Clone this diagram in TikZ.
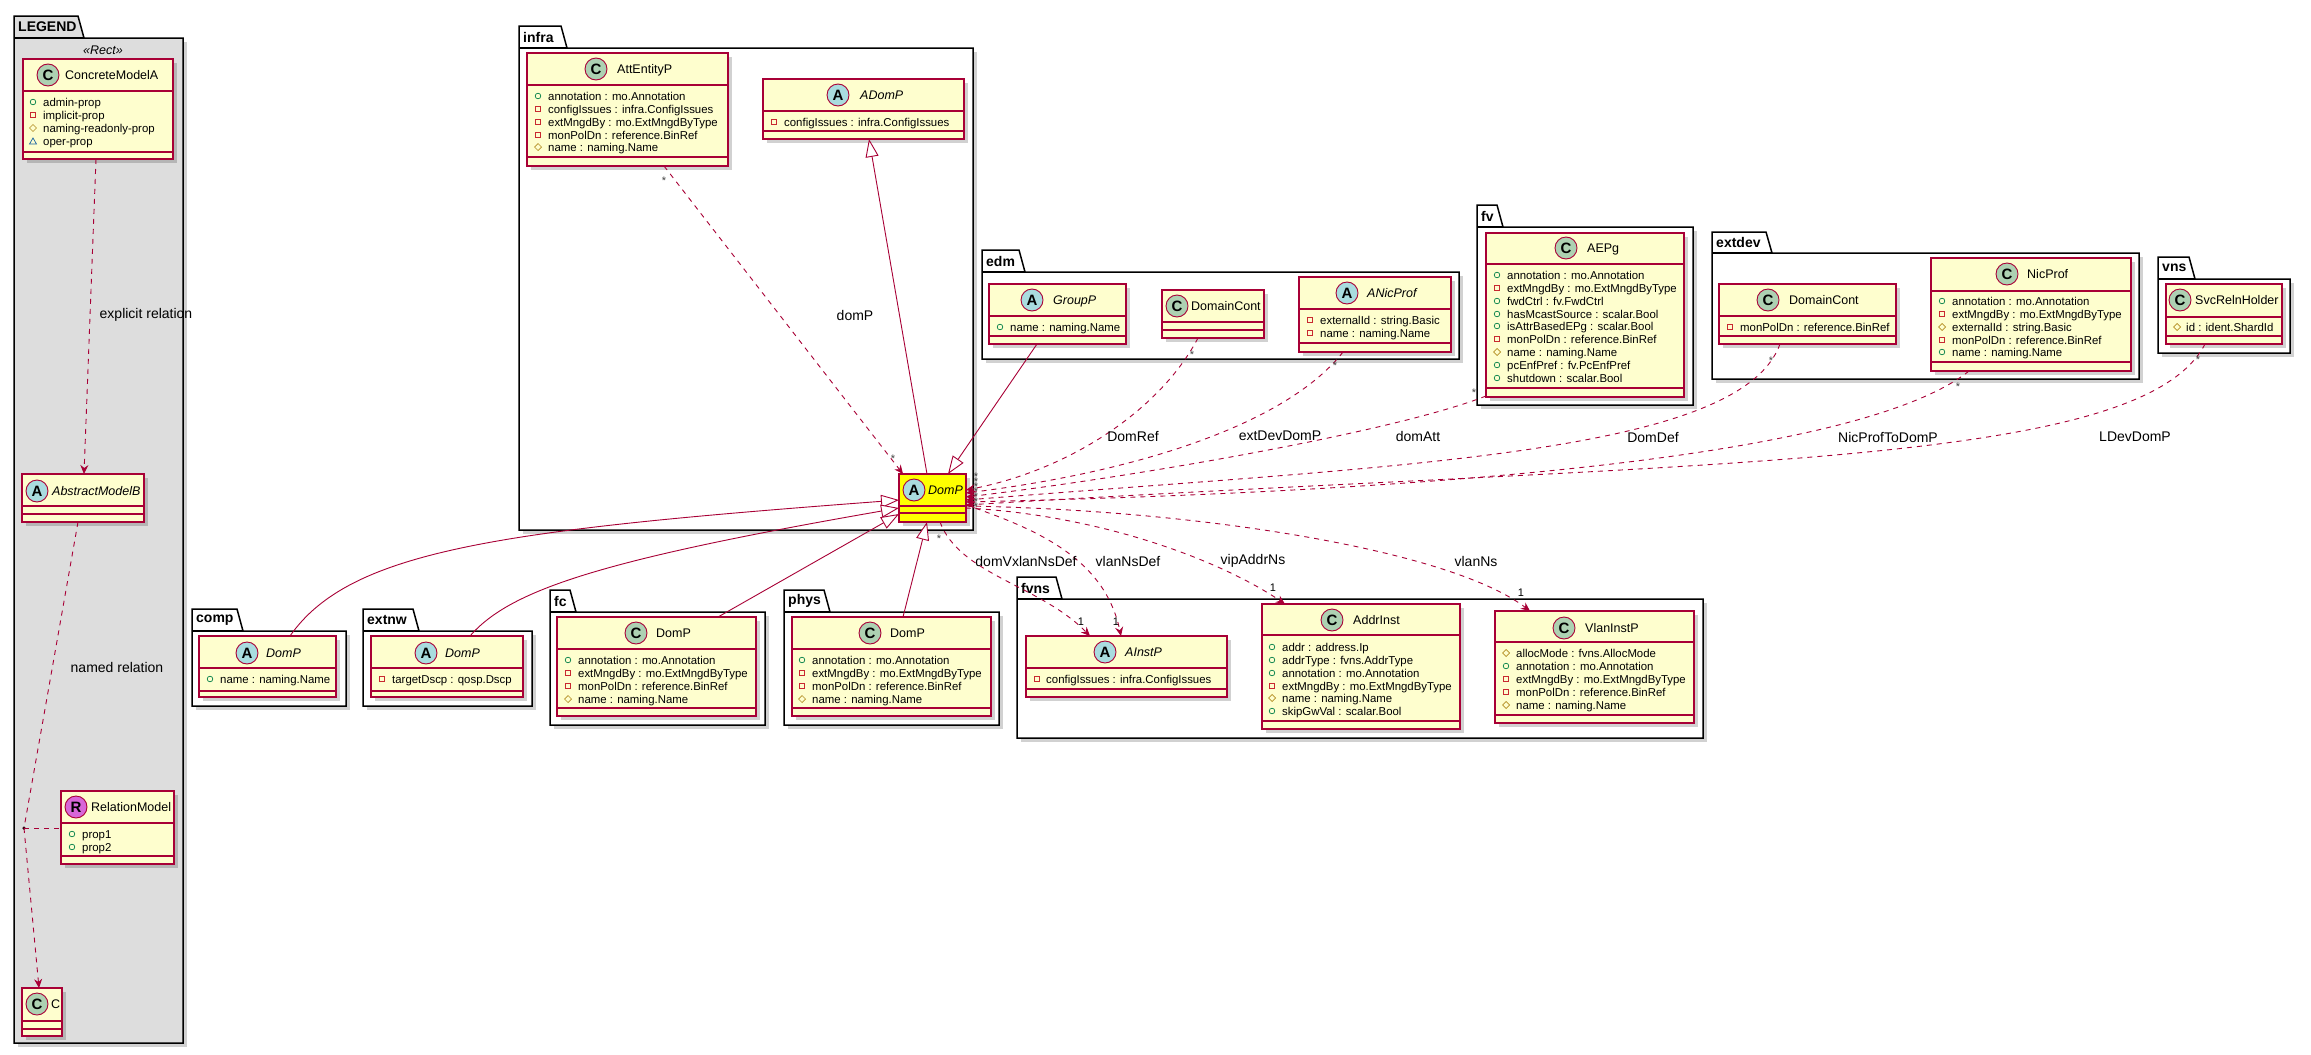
\documentclass[tikz,border=0pt]{standalone}
\usepackage{fontspec}
\setmainfont{Liberation Sans}
\usetikzlibrary{arrows.meta}
\definecolor{bord}{HTML}{A80036}
\definecolor{cfill}{HTML}{FEFECE}
\definecolor{cC}{HTML}{ADD1B2}
\definecolor{cA}{HTML}{A9DCDF}
\definecolor{cR}{HTML}{D866D8}
\definecolor{pubc}{HTML}{038048}
\definecolor{privc}{HTML}{C82930}
\definecolor{protc}{HTML}{B38D22}
\definecolor{pkgc}{HTML}{1963A0}
\definecolor{legbg}{HTML}{DDDDDD}
\definecolor{domy}{HTML}{FFFF00}
\newcounter{attrc}
\tikzset{
 cbox/.style={rectangle, draw=bord, line width=1.2pt, inner sep=0pt, outer sep=0pt},
 cline/.style={draw=bord, line width=1.2pt},
 cshadow/.style={fill=black, opacity=0.18},
 pkgline/.style={draw=black, line width=1.5pt},
 pshadow/.style={fill=black, opacity=0.18},
 circ/.style={circle, draw=bord, line width=0.9pt, minimum size=22pt, inner sep=0pt, font=\bfseries\fontsize{15}{15}\selectfont},
 cname/.style={anchor=west, inner sep=0pt, text height=9pt, text depth=0pt, font=\fontsize{12.5}{14}\selectfont},
 aname/.style={cname, font=\itshape\fontsize{12.5}{14}\selectfont},
 attrtext/.style={anchor=west, inner sep=0pt, text height=8pt, text depth=0pt, font=\fontsize{11.4}{13}\selectfont},
 pkgname/.style={anchor=west, inner sep=0pt, font=\bfseries\fontsize{14}{16}\selectfont},
 elabel/.style={inner sep=0pt, font=\fontsize{14}{16}\selectfont},
 mult/.style={inner sep=0pt, text=black!75, font=\fontsize{11}{12}\selectfont},
 dep/.style={draw=bord, line width=0.9pt, dash pattern=on 5pt off 5pt},
 deparrow/.style={dep, -{Stealth[length=9pt,width=8pt,inset=3pt]}},
 gen/.style={draw=bord, line width=0.9pt, -{Triangle[open, length=18pt, width=13pt, fill=white]}},
}
\newcommand\icpub[2]{\draw[pubc, line width=0.7pt] (#1,#2) circle (2.8pt);}
\newcommand\icpriv[2]{\draw[privc, line width=0.7pt] (#1-2.8,#2-2.8) rectangle (#1+2.8,#2+2.8);}
\newcommand\icprot[2]{\draw[protc, line width=0.7pt] (#1-3.5,#2) -- (#1,#2-3.5) -- (#1+3.5,#2) -- (#1,#2+3.5) -- cycle;}
\newcommand\icpkg[2]{\draw[pkgc, line width=0.7pt] (#1-3.5,#2+3) -- (#1,#2-3) -- (#1+3.5,#2+3) -- cycle;}
\newcommand\uattr[5]{\csname ic#1\endcsname{#2}{#4}\stepcounter{attrc}\node[attrtext] (attr\arabic{attrc}) at (#3,#4) {#5};}
\newcommand\uclass[8]{%
 \fill[cshadow] (#2+4,#3+4) rectangle (#4+4,#5+4);
 \node[cbox, fill=#8, anchor=north west, minimum width={(#4-#2)*1pt}, minimum height={(#5-#3)*1pt}] (#1) at (#2,#3) {};
 \draw[cline] (#2,#6) -- (#4,#6);
 \draw[cline] (#2,#7) -- (#4,#7);}
\newcommand\upkg[9]{%
 \fill[pshadow] (#3+4,#6+4) rectangle (#7+4,#8+4);
 \draw[pkgline, fill=#9] (#3,#4) -- (#5-6,#4) -- (#5,#6) -- (#7,#6) -- (#7,#8) -- (#3,#8) -- cycle;
 \draw[pkgline] (#3,#6) -- (#5,#6);
 \node[pkgname] (#1) at (#3+4,{(#4+#6)/2}) {#2};}
\begin{document}
\begin{tikzpicture}[x=1pt,y=-1pt]
\useasboundingbox (0,0) rectangle (2311,1055);
\fill[white] (0,0) rectangle (2311,1055);

% ---------- packages
\upkg{pLEGEND}{LEGEND}{14}{16}{84}{38}{183}{1043}{legbg}
\upkg{pinfra}{infra}{519}{26}{567}{48}{973}{530}{white}
\upkg{pedm}{edm}{982}{250}{1025}{272}{1459}{359}{white}
\upkg{pfv}{fv}{1477}{205}{1503}{227}{1693}{405}{white}
\upkg{pextdev}{extdev}{1712}{232}{1772}{253}{2139}{379}{white}
\upkg{pvns}{vns}{2158}{257}{2195}{279}{2290}{353}{white}
\upkg{pcomp}{comp}{192}{609}{243}{631}{346}{706}{white}
\upkg{pextnw}{extnw}{363}{609}{419}{631}{532}{706}{white}
\upkg{pfc}{fc}{550}{590}{576}{612}{765}{725}{white}
\upkg{pphys}{phys}{784}{590}{830}{612}{999}{725}{white}
\upkg{pfvns}{fvns}{1017}{577}{1062}{599}{1703}{738}{white}

% ---------- LEGEND
\node[font=\itshape\fontsize{12.5}{14}\selectfont, inner sep=0pt] (stRect) at (103,50) {«Rect»};
\uclass{CMA}{23}{59}{173}{159}{91}{152}{cfill}
\node[circ, fill=cC] (CMAc) at (48,75) {C};
\node[cname] (CMAn) at (65,75) {ConcreteModelA};
\uattr{pub}{33}{43}{102}{admin-prop}
\uattr{priv}{33}{43}{115}{implicit-prop}
\uattr{prot}{33}{43}{128}{naming-readonly-prop}
\uattr{pkg}{33}{43}{141}{oper-prop}

\uclass{AMB}{22}{474}{144}{522}{506}{514}{cfill}
\node[circ, fill=cA] (AMBc) at (37,491) {A};
\node[aname] (AMBn) at (52,491) {AbstractModelB};

\uclass{RM}{61}{791}{174}{864}{823}{856}{cfill}
\node[circ, fill=cR] (RMc) at (76,807) {R};
\node[cname] (RMn) at (91,807) {RelationModel};
\uattr{pub}{72}{82}{834}{prop1}
\uattr{pub}{72}{82}{847}{prop2}

\uclass{legC}{22}{988}{62}{1036}{1021}{1029}{cfill}
\node[circ, fill=cC] (legCc) at (37,1004) {C};
\node[cname] (legCn) at (51,1004) {C};

\node[circle, fill=black, inner sep=0pt, minimum size=3.5pt] (rdot) at (24,828) {};

% ---------- infra
\uclass{AttEntityP}{527}{53}{728}{166}{85}{157}{cfill}
\node[circ, fill=cC] (AttEntityPc) at (596,69) {C};
\node[cname] (AttEntityPn) at (617,69) {AttEntityP};
\uattr{pub}{538}{548}{96}{annotation : mo.Annotation}
\uattr{priv}{538}{548}{109}{configIssues : infra.ConfigIssues}
\uattr{priv}{538}{548}{122}{extMngdBy : mo.ExtMngdByType}
\uattr{priv}{538}{548}{135}{monPolDn : reference.BinRef}
\uattr{prot}{538}{548}{147}{name : naming.Name}

\uclass{ADomP}{763}{79}{964}{139}{111}{131}{cfill}
\node[circ, fill=cA] (ADomPc) at (838,95) {A};
\node[aname] (ADomPn) at (860,95) {ADomP};
\uattr{priv}{774}{784}{122}{configIssues : infra.ConfigIssues}

\uclass{DomP}{899}{474}{966}{522}{506}{513}{domy}
\node[circ, fill=cA] (DomPc) at (914,490) {A};
\node[aname] (DomPn) at (928,490) {DomP};

% ---------- edm
\uclass{GroupP}{989}{284}{1126}{344}{316}{336}{cfill}
\node[circ, fill=cA] (GroupPc) at (1032,300) {A};
\node[aname] (GroupPn) at (1053,300) {GroupP};
\uattr{pub}{1000}{1010}{327}{name : naming.Name}

\uclass{edmDC}{1162}{290}{1264}{338}{322}{330}{cfill}
\node[circ, fill=cC] (edmDCc) at (1177,306) {C};
\node[cname] (edmDCn) at (1191,306) {DomainCont};

\uclass{ANicProf}{1299}{277}{1451}{352}{309}{343}{cfill}
\node[circ, fill=cA] (ANicProfc) at (1347,293) {A};
\node[aname] (ANicProfn) at (1367,293) {ANicProf};
\uattr{priv}{1310}{1320}{320}{externalId : string.Basic}
\uattr{priv}{1310}{1320}{333}{name : naming.Name}

% ---------- fv
\uclass{AEPg}{1486}{233}{1684}{397}{264}{388}{cfill}
\node[circ, fill=cC] (AEPgc) at (1566,248) {C};
\node[cname] (AEPgn) at (1587,248) {AEPg};
\uattr{pub}{1497}{1507}{275}{annotation : mo.Annotation}
\uattr{priv}{1497}{1507}{288}{extMngdBy : mo.ExtMngdByType}
\uattr{pub}{1497}{1507}{301}{fwdCtrl : fv.FwdCtrl}
\uattr{pub}{1497}{1507}{314}{hasMcastSource : scalar.Bool}
\uattr{pub}{1497}{1507}{326}{isAttrBasedEPg : scalar.Bool}
\uattr{priv}{1497}{1507}{339}{monPolDn : reference.BinRef}
\uattr{prot}{1497}{1507}{352}{name : naming.Name}
\uattr{pub}{1497}{1507}{365}{pcEnfPref : fv.PcEnfPref}
\uattr{pub}{1497}{1507}{378}{shutdown : scalar.Bool}

% ---------- extdev
\uclass{exDC}{1719}{284}{1896}{344}{316}{336}{cfill}
\node[circ, fill=cC] (exDCc) at (1768,300) {C};
\node[cname] (exDCn) at (1789,300) {DomainCont};
\uattr{priv}{1730}{1740}{327}{monPolDn : reference.BinRef}

\uclass{NicProf}{1931}{258}{2131}{371}{291}{362}{cfill}
\node[circ, fill=cC] (NicProfc) at (2007,274) {C};
\node[cname] (NicProfn) at (2027,274) {NicProf};
\uattr{pub}{1942}{1952}{301}{annotation : mo.Annotation}
\uattr{priv}{1942}{1952}{314}{extMngdBy : mo.ExtMngdByType}
\uattr{prot}{1942}{1952}{327}{externalId : string.Basic}
\uattr{priv}{1942}{1952}{340}{monPolDn : reference.BinRef}
\uattr{pub}{1942}{1952}{352}{name : naming.Name}

% ---------- vns
\uclass{Svc}{2166}{284}{2282}{344}{317}{336}{cfill}
\node[circ, fill=cC] (Svcc) at (2180,300) {C};
\node[cname] (Svcn) at (2195,300) {SvcRelnHolder};
\uattr{prot}{2177}{2186}{327}{id : ident.ShardId}

% ---------- comp, extnw, fc, phys
\uclass{compD}{199}{636}{336}{697}{668}{691}{cfill}
\node[circ, fill=cA] (compDc) at (247,653) {A};
\node[aname] (compDn) at (266,653) {DomP};
\uattr{pub}{210}{220}{679}{name : naming.Name}

\uclass{extnwD}{371}{636}{523}{697}{668}{691}{cfill}
\node[circ, fill=cA] (extnwDc) at (426,653) {A};
\node[aname] (extnwDn) at (445,653) {DomP};
\uattr{priv}{382}{392}{679}{targetDscp : qosp.Dscp}

\uclass{fcD}{557}{617}{756}{716}{649}{708}{cfill}
\node[circ, fill=cC] (fcDc) at (636,633) {C};
\node[cname] (fcDn) at (656,633) {DomP};
\uattr{pub}{568}{578}{660}{annotation : mo.Annotation}
\uattr{priv}{568}{578}{673}{extMngdBy : mo.ExtMngdByType}
\uattr{priv}{568}{578}{686}{monPolDn : reference.BinRef}
\uattr{prot}{568}{578}{699}{name : naming.Name}

\uclass{physD}{792}{617}{991}{716}{649}{708}{cfill}
\node[circ, fill=cC] (physDc) at (870,633) {C};
\node[cname] (physDn) at (890,633) {DomP};
\uattr{pub}{802}{812}{660}{annotation : mo.Annotation}
\uattr{priv}{802}{812}{673}{extMngdBy : mo.ExtMngdByType}
\uattr{priv}{802}{812}{686}{monPolDn : reference.BinRef}
\uattr{prot}{802}{812}{699}{name : naming.Name}

% ---------- fvns
\uclass{AInstP}{1026}{636}{1227}{697}{668}{689}{cfill}
\node[circ, fill=cA] (AInstPc) at (1105,652) {A};
\node[aname] (AInstPn) at (1125,652) {AInstP};
\uattr{priv}{1037}{1046}{679}{configIssues : infra.ConfigIssues}

\uclass{AddrInst}{1262}{604}{1460}{729}{635}{721}{cfill}
\node[circ, fill=cC] (AddrInstc) at (1332,620) {C};
\node[cname] (AddrInstn) at (1353,620) {AddrInst};
\uattr{pub}{1272}{1282}{647}{addr : address.Ip}
\uattr{pub}{1272}{1282}{660}{addrType : fvns.AddrType}
\uattr{pub}{1272}{1282}{673}{annotation : mo.Annotation}
\uattr{priv}{1272}{1282}{686}{extMngdBy : mo.ExtMngdByType}
\uattr{prot}{1272}{1282}{698}{name : naming.Name}
\uattr{pub}{1272}{1282}{711}{skipGwVal : scalar.Bool}

\uclass{VlanInstP}{1495}{611}{1694}{723}{642}{715}{cfill}
\node[circ, fill=cC] (VlanInstPc) at (1564,628) {C};
\node[cname] (VlanInstPn) at (1585,628) {VlanInstP};
\uattr{prot}{1506}{1516}{653}{allocMode : fvns.AllocMode}
\uattr{pub}{1506}{1516}{666}{annotation : mo.Annotation}
\uattr{priv}{1506}{1516}{679}{extMngdBy : mo.ExtMngdByType}
\uattr{priv}{1506}{1516}{692}{monPolDn : reference.BinRef}
\uattr{prot}{1506}{1516}{705}{name : naming.Name}

% ---------- legend connectors
\draw[deparrow] ([xshift=73pt]CMA.south west) -- ([xshift=62pt]AMB.north west);
\draw[dep] ([xshift=56pt]AMB.south west) -- (rdot.center);
\draw[dep] (rdot.center) -- ([yshift=-37pt]RM.north west);
\draw[deparrow] (rdot.center) -- ([xshift=17pt]legC.north west);
\node[elabel] (lblExp) at (146,315) {explicit relation};
\node[elabel] (lblNamed) at (117,667) {named relation};

% ---------- generalizations into DomP
\draw[gen] ([xshift=28pt]DomP.north west) -- ([xshift=106pt]ADomP.south west);
\draw[gen] ([xshift=48pt]GroupP.south west) -- ([xshift=49pt]DomP.north west);
\draw[gen] ([xshift=91pt]compD.north west) .. controls (350,550) and (500,530) .. ([yshift=-26pt]DomP.north west);
\draw[gen] ([xshift=99pt]extnwD.north west) .. controls (510,590) and (600,560) .. ([yshift=-34pt]DomP.north west);
\draw[gen] ([xshift=161pt]fcD.north west) -- ([yshift=-40pt]DomP.north west);
\draw[gen] ([xshift=111pt]physD.north west) -- ([xshift=28pt]DomP.south west);

% ---------- associations into DomP
\draw[deparrow] ([xshift=137pt]AttEntityP.south west) -- ([xshift=4pt]DomP.north west);
\draw[deparrow] ([xshift=36pt]edmDC.south west) .. controls (1160,410) and (1070,470) .. ([yshift=-16pt]DomP.north east);
\draw[deparrow] ([xshift=44pt]ANicProf.south west) .. controls (1290,420) and (1150,470) .. ([yshift=-19pt]DomP.north east);
\draw[deparrow] ([yshift=1pt]AEPg.south west) .. controls (1400,430) and (1150,475) .. ([yshift=-23pt]DomP.north east);
\draw[deparrow] ([xshift=61pt]exDC.south west) .. controls (1740,455) and (1400,465) .. ([yshift=-26pt]DomP.north east);
\draw[deparrow] ([xshift=38pt]NicProf.south west) .. controls (1870,450) and (1500,490) .. ([yshift=-28pt]DomP.north east);
\draw[deparrow] ([xshift=39pt]Svc.south west) .. controls (2140,470) and (1700,460) .. ([yshift=-31pt]DomP.north east);

% ---------- associations out of DomP
\draw[deparrow] ([xshift=41pt]DomP.south west) .. controls (960,575) and (1040,585) .. ([xshift=64pt]AInstP.north west);
\draw[deparrow] ([yshift=-31pt]DomP.north east) .. controls (1040,530) and (1105,560) .. ([xshift=95pt]AInstP.north west);
\draw[deparrow] ([yshift=-34pt]DomP.north east) .. controls (1100,515) and (1220,560) .. ([xshift=23pt]AddrInst.north west);
\draw[deparrow] ([yshift=-32pt]DomP.north east) .. controls (1200,510) and (1450,550) .. ([xshift=35pt]VlanInstP.north west);

% ---------- edge labels
\node[elabel] (lblDomP) at (855,315) {domP};
\node[elabel] (lblDomRef) at (1133,436) {DomRef};
\node[elabel] (lblExtDev) at (1280,436) {extDevDomP};
\node[elabel] (lblDomAtt) at (1418,436) {domAtt};
\node[elabel] (lblDomDef) at (1653,437) {DomDef};
\node[elabel] (lblNicProf) at (1888,437) {NicProfToDomP};
\node[elabel] (lblLDev) at (2135,437) {LDevDomP};
\node[elabel] (lblVx) at (1026,561) {domVxlanNsDef};
\node[elabel] (lblVlanNsDef) at (1128,561) {vlanNsDef};
\node[elabel] (lblVip) at (1253,561) {vipAddrNs};
\node[elabel] (lblVlanNs) at (1476,561) {vlanNs};

% ---------- multiplicities
\node[mult] (m1) at (664,181) {*};
\node[mult] (m2) at (893,459) {*};
\node[mult] (m3) at (1192,355) {*};
\node[mult] (m4) at (1335,366) {*};
\node[mult] (m5) at (1474,393) {*};
\node[mult] (m6) at (1771,361) {*};
\node[mult] (m7) at (1958,387) {*};
\node[mult] (m8) at (2198,360) {*};
\node[mult] (m9) at (939,539) {*};
\node[mult] (s1) at (976,477) {*};
\node[mult] (s2) at (976,482) {*};
\node[mult] (s3) at (976,487) {*};
\node[mult] (s4) at (976,492) {*};
\node[mult] (s5) at (976,497) {*};
\node[mult] (s6) at (976,502) {*};
\node[mult] (s7) at (976,507) {*};
\node[mult, text=black] (n1) at (1081,622) {1};
\node[mult, text=black] (n2) at (1116,622) {1};
\node[mult, text=black] (n3) at (1273,588) {1};
\node[mult, text=black] (n4) at (1521,593) {1};
\end{tikzpicture}
\end{document}
